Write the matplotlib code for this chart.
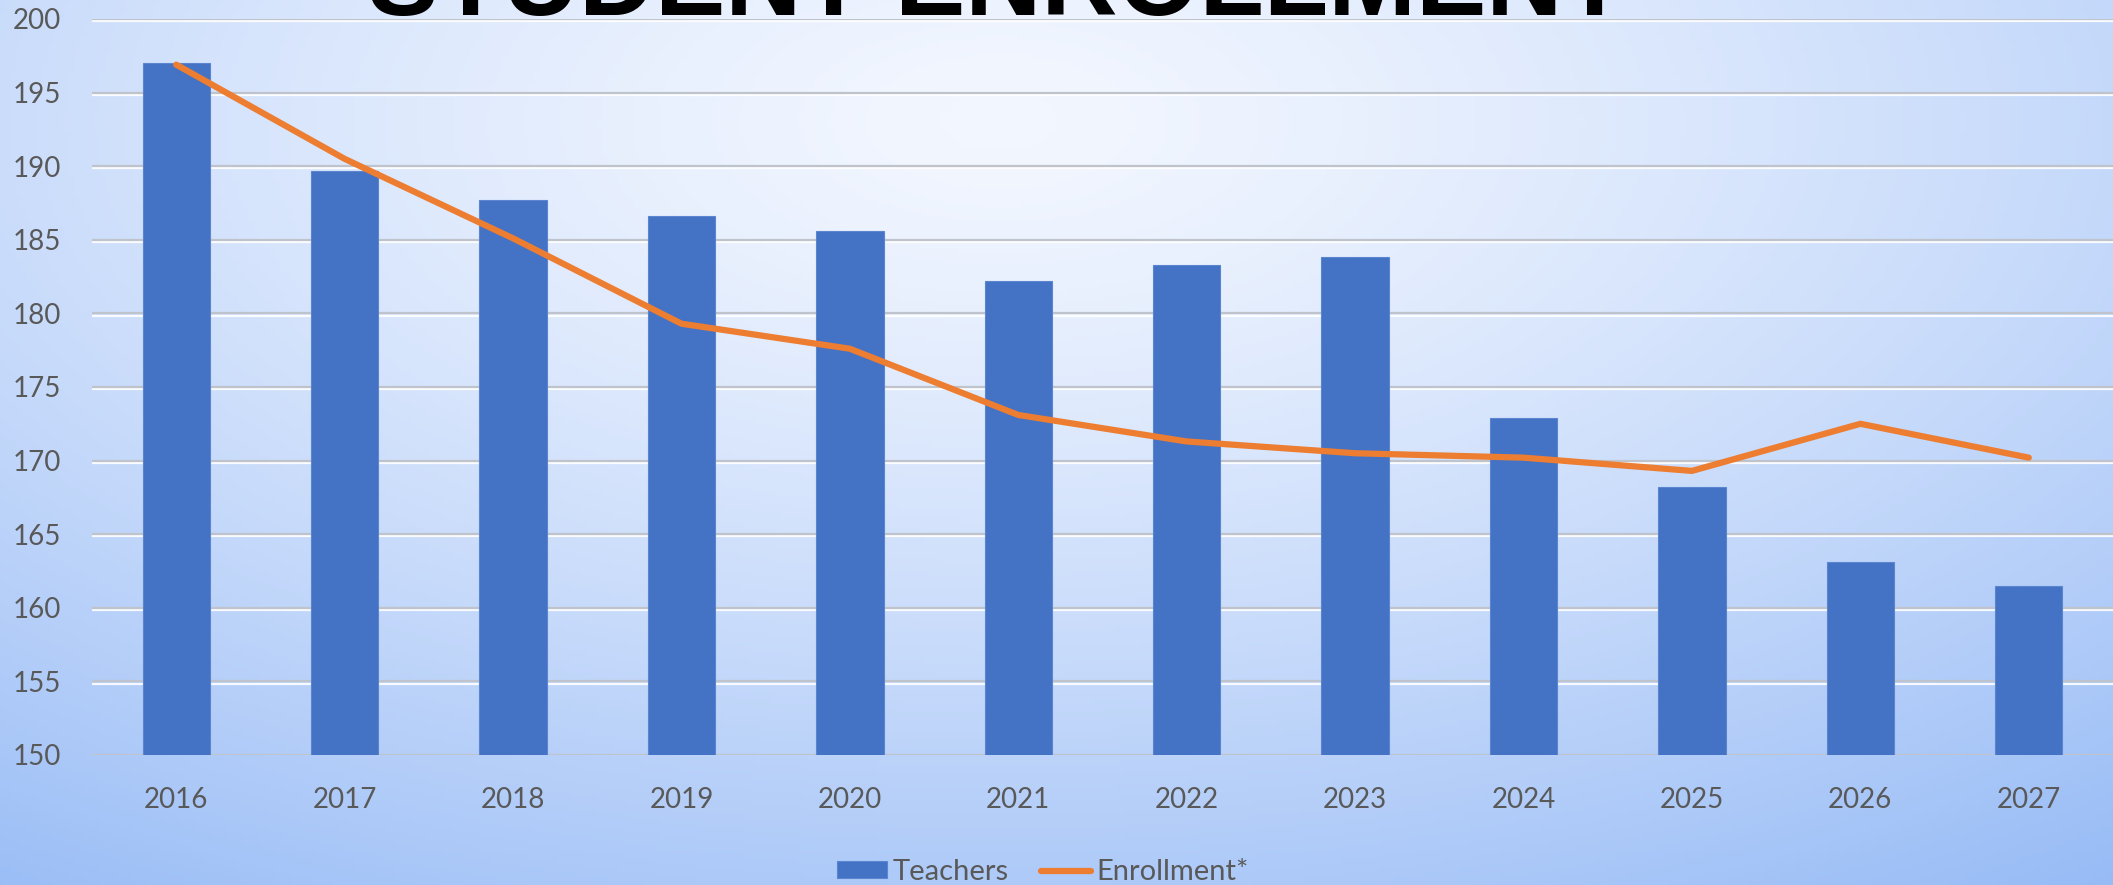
import matplotlib
matplotlib.use("Agg")
import matplotlib.pyplot as plt
import matplotlib.patheffects as pe
import numpy as np

# data
years = ['2016', '2017', '2018', '2019', '2020', '2021',
         '2022', '2023', '2024', '2025', '2026', '2027']
teachers = [197.0, 189.7, 187.7, 186.6, 185.6, 182.2,
            183.3, 183.8, 172.9, 168.2, 163.1, 161.5]
enrollment = [196.9, 190.5, 185.1, 179.3, 177.6, 173.1,
              171.3, 170.5, 170.2, 169.3, 172.5, 170.2]
y_ticks = [150, 155, 160, 165, 170, 175, 180, 185, 190, 195, 200]

W, H = 2113, 885
fig = plt.figure(figsize=(W / 100, H / 100), dpi=100)

# background gradient (light in the upper middle, darker blue toward the bottom corners)
bg = fig.add_axes([0, 0, 1, 1], zorder=-10)
xx, yy = np.meshgrid(np.linspace(0, W, 400), np.linspace(0, H, 200))
d = np.sqrt(((xx - 1000) / 1750) ** 2 + ((yy - 120) / 880) ** 2)
d = np.clip(d, 0, 1.15) / 1.15
light = np.array([243, 247, 255]) / 255
dark = np.array([143, 182, 245]) / 255
t = d[..., None] ** 1.3
img = light * (1 - t) + dark * t
bg.imshow(img, extent=[0, W, H, 0], aspect='auto')
bg.axis('off')

ax = fig.add_axes([92 / W, 1 - 755 / H, 1 - 92 / W, (755 - 19) / H])
ax.patch.set_alpha(0)

x = np.arange(len(years))
bars = ax.bar(x, teachers, width=0.4, color='#4472C4', edgecolor='#5b85d0',
              linewidth=0.8, label='Teachers', zorder=3)
line, = ax.plot(x, enrollment, color='#ED7D31', linewidth=4.5,
                solid_capstyle='round', solid_joinstyle='round',
                label='Enrollment*', zorder=4)

ax.set_xlim(-0.5, len(years) - 0.5)
ax.set_ylim(150, 200)
ax.set_yticks(y_ticks)
ax.set_xticks(x)
ax.set_xticklabels(years)

for s in ax.spines.values():
    s.set_visible(False)

ax.tick_params(length=0, labelcolor='#595959', labelsize=20)
ax.tick_params(axis='y', pad=22)
ax.tick_params(axis='x', pad=23)
for lab in ax.get_xticklabels() + ax.get_yticklabels():
    lab.set_family(['Lato', 'DejaVu Sans'])

ax.set_axisbelow(True)
ax.grid(axis='y', color='#bfc3cb', linewidth=1.6, zorder=1,
        path_effects=[pe.SimpleLineShadow(offset=(0, -1.6), shadow_color='white', alpha=0.9),
                      pe.Normal()])
ax.grid(axis='x', visible=False)

leg = fig.legend([bars, line], ['Teachers', 'Enrollment*'], loc='center',
                 bbox_to_anchor=(1043 / W, 1 - 872 / H), ncol=2,
                 frameon=False, handlelength=1.7, handleheight=0.5,
                 handletextpad=0.2, columnspacing=1.1,
                 prop={'family': ['Lato', 'DejaVu Sans'], 'size': 21})
for txt in leg.get_texts():
    txt.set_color('#595959')

fig.text(0.472, 1 - 15 / H, 'STUDENT ENROLLMENT', ha='center', va='baseline',
         fontsize=76, fontweight='bold', family=['Liberation Sans', 'DejaVu Sans'],
         color='black')

fig.savefig('out.png', dpi=100)
